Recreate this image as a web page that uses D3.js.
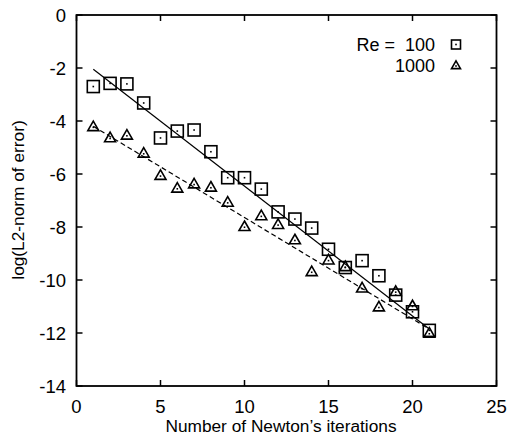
<!DOCTYPE html>
<html lang="en">
<head>
<meta charset="UTF-8">
<title>Newton convergence</title>
<script src="https://cdn.jsdelivr.net/npm/d3@7"></script>
<style>
  body { margin: 0; background: #fff; }
  text { font-family: "Liberation Sans", Arial, sans-serif; fill: #000; }
</style>
</head>
<body>
<svg id="chart" width="508" height="439"></svg>
<script>
// iterations 1..21
const iterations = [1, 2, 3, 4, 5, 6, 7, 8, 9, 10, 11, 12, 13, 14, 15, 16, 17, 18, 19, 20, 21];
// Re = 100 (squares)
const re100 = [-2.7, -2.58, -2.6, -3.32, -4.64, -4.38, -4.34, -5.16, -6.14, -6.14, -6.57,
               -7.43, -7.7, -8.04, -8.84, -9.53, -9.27, -9.84, -10.57, -11.2, -11.9];
// Re = 1000 (triangles)
const re1000 = [-4.22, -4.64, -4.54, -5.22, -6.06, -6.54, -6.38, -6.5, -7.07, -7.99, -7.58,
                -7.91, -8.49, -9.69, -9.25, -9.5, -10.31, -11.02, -10.44, -10.98, -12.01];
// fitted lines (endpoints)
const fit100 = [[1, -2.05], [21, -11.85]];
const fit1000 = [[1, -4.2], [21, -11.85]];
const xTicks = [0, 5, 10, 15, 20, 25];
const yTicks = [0, -2, -4, -6, -8, -10, -12, -14];

const svg = d3.select("#chart");
const x = d3.scaleLinear().domain([0, 25]).range([76.5, 496.5]);
const y = d3.scaleLinear().domain([0, -14]).range([15, 386]);

const g = svg.append("g");

// frame
g.append("rect")
  .attr("x", x(0)).attr("y", y(0))
  .attr("width", x(25) - x(0)).attr("height", y(-14) - y(0))
  .attr("fill", "none").attr("stroke", "#000").attr("stroke-width", 1.8);

// inward ticks
const tl = 6;
xTicks.forEach(t => {
  g.append("line").attr("x1", x(t)).attr("x2", x(t)).attr("y1", y(-14)).attr("y2", y(-14) - tl)
    .attr("stroke", "#000").attr("stroke-width", 1.5);
  g.append("line").attr("x1", x(t)).attr("x2", x(t)).attr("y1", y(0)).attr("y2", y(0) + tl)
    .attr("stroke", "#000").attr("stroke-width", 1.5);
  g.append("text").attr("x", x(t)).attr("y", 413).attr("text-anchor", "middle")
    .attr("font-size", 18.5).text(t);
});
yTicks.forEach(t => {
  g.append("line").attr("x1", x(0)).attr("x2", x(0) + tl).attr("y1", y(t)).attr("y2", y(t))
    .attr("stroke", "#000").attr("stroke-width", 1.5);
  g.append("line").attr("x1", x(25)).attr("x2", x(25) - tl).attr("y1", y(t)).attr("y2", y(t))
    .attr("stroke", "#000").attr("stroke-width", 1.5);
  g.append("text").attr("x", 66).attr("y", y(t) + 6.8).attr("text-anchor", "end")
    .attr("font-size", 18.5).text(t);
});

// axis titles
g.append("text").attr("x", 281).attr("y", 432).attr("text-anchor", "middle")
  .attr("font-size", 17.3).text("Number of Newton\u2019s iterations");
g.append("text").attr("transform", "translate(24,200) rotate(-90)").attr("text-anchor", "middle")
  .attr("font-size", 17.3).text("log(L2-norm of error)");

// fit lines
const line = d3.line().x(d => x(d[0])).y(d => y(d[1]));
g.append("path").attr("d", line(fit100)).attr("fill", "none")
  .attr("stroke", "#000").attr("stroke-width", 1.2);
g.append("path").attr("d", line(fit1000)).attr("fill", "none")
  .attr("stroke", "#000").attr("stroke-width", 1.2).attr("stroke-dasharray", "5,3");

// markers
function square(sel, cx, cy, s) {
  sel.append("rect").attr("x", cx - s / 2).attr("y", cy - s / 2).attr("width", s).attr("height", s)
    .attr("fill", "none").attr("stroke", "#000").attr("stroke-width", 1.6);
  sel.append("rect").attr("x", cx - 0.8).attr("y", cy - 0.8).attr("width", 1.6).attr("height", 1.6)
    .attr("fill", "#000");
}
function triangle(sel, cx, cy, s) {
  const h = s * 0.87;
  sel.append("path")
    .attr("d", `M${cx},${cy - h * 0.6}L${cx + s / 2},${cy + h * 0.4}L${cx - s / 2},${cy + h * 0.4}Z`)
    .attr("fill", "none").attr("stroke", "#000").attr("stroke-width", 1.6);
  sel.append("rect").attr("x", cx - 0.8).attr("y", cy - 0.3).attr("width", 1.6).attr("height", 1.6)
    .attr("fill", "#000");
}
const mk = g.append("g");
iterations.forEach((it, i) => {
  square(mk, x(it), y(re100[i]), 12);
  triangle(mk, x(it), y(re1000[i]), 11);
});

// legend
g.append("text").attr("x", 435).attr("y", 51).attr("text-anchor", "end")
  .attr("font-size", 18).attr("xml:space", "preserve").text("Re =  100");
g.append("text").attr("x", 435).attr("y", 72).attr("text-anchor", "end")
  .attr("font-size", 18).text("1000");
square(g, 456, 44.5, 9);
triangle(g, 456, 65.5, 9);
</script>
</body>
</html>
